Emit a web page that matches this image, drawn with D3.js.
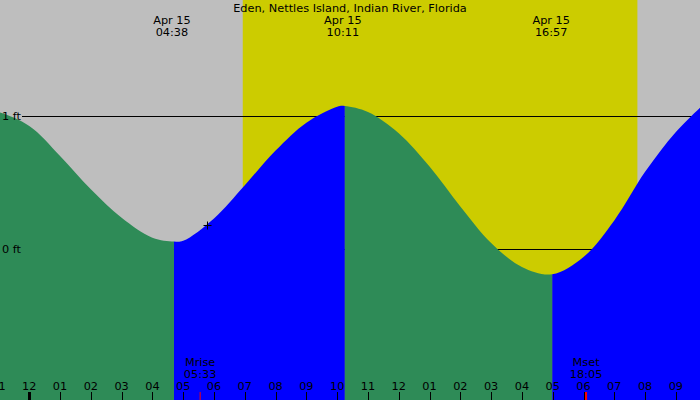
<!DOCTYPE html>
<html>
<head>
<meta charset="utf-8">
<script src="https://cdn.jsdelivr.net/npm/d3@7"></script>
<style>
  body { margin: 0; background: #fff; }
  svg { display: block; }
  text { font-family: 'DejaVu Sans', sans-serif; font-size: 11.3px; fill: #000; }
</style>
</head>
<body>
<svg width="700" height="400"></svg>
<script>
// tide readings (ft)
const tideTimes = [
  '2024-04-14 22:40',
  '2024-04-14 23:00', '2024-04-15 00:00', '2024-04-15 01:00', '2024-04-15 02:00',
  '2024-04-15 03:00', '2024-04-15 04:00', '2024-04-15 04:42', '2024-04-15 05:00',
  '2024-04-15 06:00', '2024-04-15 07:00', '2024-04-15 08:00', '2024-04-15 09:00',
  '2024-04-15 10:00', '2024-04-15 10:15', '2024-04-15 11:00', '2024-04-15 12:00',
  '2024-04-15 13:00', '2024-04-15 14:00', '2024-04-15 15:00', '2024-04-15 16:00',
  '2024-04-15 16:59', '2024-04-15 18:00', '2024-04-15 19:00',
  '2024-04-15 20:00', '2024-04-15 21:00', '2024-04-15 22:00'
];
const tideHeights = [
  1.036,
  1.03, 0.925, 0.70, 0.45,
  0.235, 0.085, 0.056, 0.062,
  0.23, 0.48, 0.74, 0.95,
  1.07, 1.075, 1.03, 0.87,
  0.62, 0.32, 0.045, -0.135,
  -0.19, -0.06, 0.215,
  0.58, 0.88, 1.11
];

// high / low tides shown at the top
const extremeTimes = ['2024-04-15 04:38', '2024-04-15 10:11', '2024-04-15 16:57'];
const extremeLabels = ['Apr 15', 'Apr 15', 'Apr 15'];

const sunTimes = ['2024-04-15 06:56', '2024-04-15 19:45'];   // sunrise, sunset
const moonTimes = ['2024-04-15 05:33', '2024-04-15 18:05'];  // moonrise, moonset
const moonLabels = ['Mrise', 'Mset'];

const levelTicks = [0, 1];
const markerTime = '2024-04-15 05:46';
const markerHeight = 0.18;

const title = 'Eden, Nettles Island, Indian River, Florida';

(function (d3) {
    'use strict';
    const svg = d3.select('svg');
    const width = +svg.attr('width');
    const height = +svg.attr('height');
    const parse = d3.timeParse('%Y-%m-%d %H:%M');
    const fmt = d3.timeFormat('%H:%M');

    const x = d3.scaleTime()
        .domain([parse('2024-04-14 23:03'), parse('2024-04-15 21:47')])
        .range([0, width]);
    const y = d3.scaleLinear()
        .domain([0, 1])
        .range([249, 116]);

    const data = tideTimes.map((t, i) => ({ date: parse(t), ft: tideHeights[i] }));

    // background: night grey, day yellow
    svg.append('rect')
        .attr('width', width).attr('height', height)
        .attr('fill', '#bebebe');
    const sun = sunTimes.map(parse);
    svg.append('rect')
        .attr('x', x(sun[0])).attr('y', 0)
        .attr('width', x(sun[1]) - x(sun[0])).attr('height', height)
        .attr('fill', '#cccc00');

    // level lines (drawn under the water)
    svg.selectAll('line.level').data(levelTicks)
      .enter().append('line')
        .attr('class', 'level')
        .attr('x1', 22).attr('x2', width)
        .attr('y1', d => Math.round(y(d)) + 0.5)
        .attr('y2', d => Math.round(y(d)) + 0.5)
        .attr('stroke', '#000');

    // water: one smooth curve, coloured falling / rising between local extremes
    const area = d3.area()
        .x(d => x(d.date))
        .y0(height)
        .y1(d => y(d.ft))
        .curve(d3.curveCatmullRom.alpha(0.5));

    svg.append('clipPath')
        .attr('id', 'water-clip')
      .append('path')
        .attr('d', area(data));

    const cuts = [x.range()[0]];
    for (let i = 1; i < data.length - 1; i++) {
        const a = data[i - 1].ft, b = data[i].ft, c = data[i + 1].ft;
        if ((b > a && b > c) || (b < a && b < c)) cuts.push(x(data[i].date));
    }
    cuts.push(x.range()[1]);
    const pieces = d3.pairs(cuts).map(([x0, x1]) => {
        const mid = x.invert((x0 + x1) / 2);
        const i = d3.bisector(d => d.date).left(data, mid);
        const rising = data[Math.min(i, data.length - 1)].ft > data[Math.max(i - 1, 0)].ft;
        return { x0, x1, rising };
    });

    svg.append('g')
        .attr('clip-path', 'url(#water-clip)')
      .selectAll('rect').data(pieces)
      .enter().append('rect')
        .attr('x', d => d.x0)
        .attr('width', d => d.x1 - d.x0)
        .attr('y', 0).attr('height', height)
        .attr('fill', d => d.rising ? '#0000ff' : '#2e8b57');

    // level labels
    svg.selectAll('text.level').data(levelTicks)
      .enter().append('text')
        .attr('class', 'level')
        .attr('x', 2)
        .attr('y', d => y(d) + 4)
        .text(d => d + ' ft');

    // title
    svg.append('text')
        .attr('x', width / 2).attr('y', 12)
        .attr('text-anchor', 'middle')
        .text(title);

    // extremes labels
    const extremes = extremeTimes.map(parse);
    const ext = svg.selectAll('g.ext').data(extremes)
      .enter().append('g')
        .attr('class', 'ext')
        .attr('transform', d => `translate(${x(d)},0)`);
    ext.append('text')
        .attr('y', 24).attr('text-anchor', 'middle')
        .text((d, i) => extremeLabels[i]);
    ext.append('text')
        .attr('y', 36).attr('text-anchor', 'middle')
        .text(d => fmt(d));

    // marker cross
    const mx = Math.round(x(parse(markerTime))) + 0.5;
    const my = Math.round(y(markerHeight)) + 0.5;
    svg.append('path')
        .attr('d', `M${mx - 4},${my}H${mx + 4}M${mx},${my - 4}V${my + 4}`)
        .attr('stroke', '#000')
        .attr('fill', 'none');

    // hour axis
    const hours = d3.timeHour.range(parse('2024-04-14 23:00'), parse('2024-04-15 22:00'));
    const axisG = svg.append('g');
    axisG.selectAll('line').data(hours)
      .enter().append('line')
        .attr('x1', d => Math.round(x(d)) + 0.5)
        .attr('x2', d => Math.round(x(d)) + 0.5)
        .attr('y1', 392).attr('y2', height)
        .attr('stroke', '#000')
        .attr('stroke-width', d => d.getHours() === 0 ? 3 : 1);
    axisG.selectAll('text').data(hours)
      .enter().append('text')
        .attr('x', d => x(d))
        .attr('y', 390)
        .attr('text-anchor', 'middle')
        .text(d3.timeFormat('%I'));

    // moon rise / set
    const moon = moonTimes.map(parse);
    const moonG = svg.selectAll('g.moon').data(moon)
      .enter().append('g')
        .attr('class', 'moon')
        .attr('transform', d => `translate(${x(d)},0)`);
    moonG.append('line')
        .attr('x1', 0).attr('x2', 0)
        .attr('y1', 392).attr('y2', height)
        .attr('stroke', '#ff0000')
        .attr('stroke-width', (d, i) => i === 0 ? 1 : 2);
    moonG.append('text')
        .attr('y', 366).attr('text-anchor', 'middle')
        .text((d, i) => moonLabels[i]);
    moonG.append('text')
        .attr('y', 378).attr('text-anchor', 'middle')
        .text(d => fmt(d));
}(d3));
</script>
</body>
</html>
